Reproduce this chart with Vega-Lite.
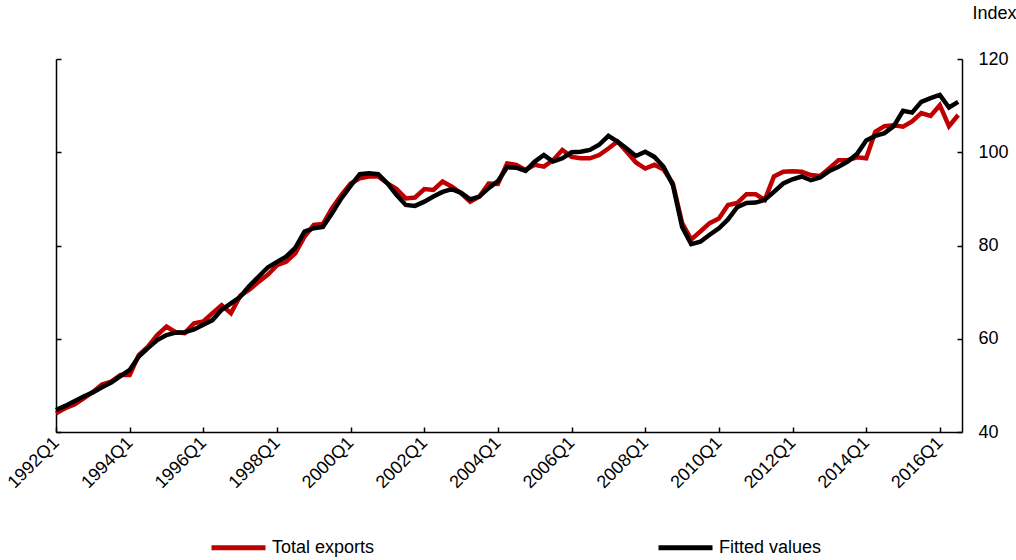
{
  "$schema": "https://vega.github.io/schema/vega-lite/v6.json",
  "width": 906,
  "height": 373,
  "autosize": {"type": "none"},
  "padding": {"left": 56, "top": 59, "right": 54, "bottom": 128},
  "background": "white",
  "config": {
    "view": {"stroke": null},
    "font": "Liberation Sans",
    "axis": {"labelFont": "Liberation Sans", "titleFont": "Liberation Sans", "labelColor": "black", "titleColor": "black", "domainColor": "black", "tickColor": "black", "grid": false}
  },
  "data": {
    "values": [
      {"date": "1992-01-01", "Total exports": 44.0, "Fitted values": 44.7},
      {"date": "1992-04-01", "Total exports": 45.1, "Fitted values": 45.6},
      {"date": "1992-07-01", "Total exports": 45.9, "Fitted values": 46.6},
      {"date": "1992-10-01", "Total exports": 47.2, "Fitted values": 47.6},
      {"date": "1993-01-01", "Total exports": 48.6, "Fitted values": 48.5},
      {"date": "1993-04-01", "Total exports": 50.2, "Fitted values": 49.6},
      {"date": "1993-07-01", "Total exports": 50.8, "Fitted values": 50.6},
      {"date": "1993-10-01", "Total exports": 52.2, "Fitted values": 52.0},
      {"date": "1994-01-01", "Total exports": 52.2, "Fitted values": 53.3},
      {"date": "1994-04-01", "Total exports": 56.5, "Fitted values": 56.2},
      {"date": "1994-07-01", "Total exports": 58.3, "Fitted values": 58.0},
      {"date": "1994-10-01", "Total exports": 60.8, "Fitted values": 59.7},
      {"date": "1995-01-01", "Total exports": 62.6, "Fitted values": 60.8},
      {"date": "1995-04-01", "Total exports": 61.4, "Fitted values": 61.3},
      {"date": "1995-07-01", "Total exports": 61.2, "Fitted values": 61.4},
      {"date": "1995-10-01", "Total exports": 63.3, "Fitted values": 62.0},
      {"date": "1996-01-01", "Total exports": 63.7, "Fitted values": 63.0},
      {"date": "1996-04-01", "Total exports": 65.5, "Fitted values": 64.0},
      {"date": "1996-07-01", "Total exports": 67.2, "Fitted values": 66.2},
      {"date": "1996-10-01", "Total exports": 65.5, "Fitted values": 67.6},
      {"date": "1997-01-01", "Total exports": 69.2, "Fitted values": 69.0},
      {"date": "1997-04-01", "Total exports": 70.5, "Fitted values": 71.3},
      {"date": "1997-07-01", "Total exports": 72.2, "Fitted values": 73.3},
      {"date": "1997-10-01", "Total exports": 73.7, "Fitted values": 75.3},
      {"date": "1998-01-01", "Total exports": 75.8, "Fitted values": 76.5},
      {"date": "1998-04-01", "Total exports": 76.5, "Fitted values": 77.6},
      {"date": "1998-07-01", "Total exports": 78.3, "Fitted values": 79.5},
      {"date": "1998-10-01", "Total exports": 81.9, "Fitted values": 83.0},
      {"date": "1999-01-01", "Total exports": 84.4, "Fitted values": 83.7},
      {"date": "1999-04-01", "Total exports": 84.6, "Fitted values": 84.0},
      {"date": "1999-07-01", "Total exports": 88.0, "Fitted values": 86.9},
      {"date": "1999-10-01", "Total exports": 90.8, "Fitted values": 90.1},
      {"date": "2000-01-01", "Total exports": 93.3, "Fitted values": 92.8},
      {"date": "2000-04-01", "Total exports": 94.4, "Fitted values": 95.3},
      {"date": "2000-07-01", "Total exports": 94.8, "Fitted values": 95.5},
      {"date": "2000-10-01", "Total exports": 94.8, "Fitted values": 95.3},
      {"date": "2001-01-01", "Total exports": 93.3, "Fitted values": 93.3},
      {"date": "2001-04-01", "Total exports": 92.1, "Fitted values": 90.8},
      {"date": "2001-07-01", "Total exports": 90.1, "Fitted values": 88.7},
      {"date": "2001-10-01", "Total exports": 90.3, "Fitted values": 88.5},
      {"date": "2002-01-01", "Total exports": 92.1, "Fitted values": 89.4},
      {"date": "2002-04-01", "Total exports": 91.9, "Fitted values": 90.5},
      {"date": "2002-07-01", "Total exports": 93.7, "Fitted values": 91.5},
      {"date": "2002-10-01", "Total exports": 92.6, "Fitted values": 92.1},
      {"date": "2003-01-01", "Total exports": 91.2, "Fitted values": 91.3},
      {"date": "2003-04-01", "Total exports": 89.4, "Fitted values": 89.9},
      {"date": "2003-07-01", "Total exports": 90.5, "Fitted values": 90.5},
      {"date": "2003-10-01", "Total exports": 93.3, "Fitted values": 92.3},
      {"date": "2004-01-01", "Total exports": 93.2, "Fitted values": 93.8},
      {"date": "2004-04-01", "Total exports": 97.6, "Fitted values": 96.8},
      {"date": "2004-07-01", "Total exports": 97.3, "Fitted values": 96.7},
      {"date": "2004-10-01", "Total exports": 96.2, "Fitted values": 96.0},
      {"date": "2005-01-01", "Total exports": 97.3, "Fitted values": 98.0},
      {"date": "2005-04-01", "Total exports": 96.9, "Fitted values": 99.4},
      {"date": "2005-07-01", "Total exports": 98.3, "Fitted values": 98.0},
      {"date": "2005-10-01", "Total exports": 100.5, "Fitted values": 98.7},
      {"date": "2006-01-01", "Total exports": 99.0, "Fitted values": 100.0},
      {"date": "2006-04-01", "Total exports": 98.7, "Fitted values": 100.1},
      {"date": "2006-07-01", "Total exports": 98.7, "Fitted values": 100.5},
      {"date": "2006-10-01", "Total exports": 99.4, "Fitted values": 101.6},
      {"date": "2007-01-01", "Total exports": 100.8, "Fitted values": 103.5},
      {"date": "2007-04-01", "Total exports": 102.3, "Fitted values": 102.3},
      {"date": "2007-07-01", "Total exports": 100.1, "Fitted values": 100.8},
      {"date": "2007-10-01", "Total exports": 97.8, "Fitted values": 99.2},
      {"date": "2008-01-01", "Total exports": 96.5, "Fitted values": 100.1},
      {"date": "2008-04-01", "Total exports": 97.3, "Fitted values": 99.0},
      {"date": "2008-07-01", "Total exports": 96.3, "Fitted values": 96.9},
      {"date": "2008-10-01", "Total exports": 93.3, "Fitted values": 93.0},
      {"date": "2009-01-01", "Total exports": 84.8, "Fitted values": 84.0},
      {"date": "2009-04-01", "Total exports": 81.3, "Fitted values": 80.3},
      {"date": "2009-07-01", "Total exports": 83.0, "Fitted values": 80.8},
      {"date": "2009-10-01", "Total exports": 84.8, "Fitted values": 82.3},
      {"date": "2010-01-01", "Total exports": 85.8, "Fitted values": 83.7},
      {"date": "2010-04-01", "Total exports": 88.7, "Fitted values": 85.6},
      {"date": "2010-07-01", "Total exports": 89.1, "Fitted values": 88.2},
      {"date": "2010-10-01", "Total exports": 91.0, "Fitted values": 89.1},
      {"date": "2011-01-01", "Total exports": 91.0, "Fitted values": 89.2},
      {"date": "2011-04-01", "Total exports": 89.8, "Fitted values": 89.8},
      {"date": "2011-07-01", "Total exports": 94.8, "Fitted values": 91.5},
      {"date": "2011-10-01", "Total exports": 95.8, "Fitted values": 93.3},
      {"date": "2012-01-01", "Total exports": 95.9, "Fitted values": 94.2},
      {"date": "2012-04-01", "Total exports": 95.8, "Fitted values": 94.8},
      {"date": "2012-07-01", "Total exports": 95.1, "Fitted values": 94.0},
      {"date": "2012-10-01", "Total exports": 94.9, "Fitted values": 94.6},
      {"date": "2013-01-01", "Total exports": 96.6, "Fitted values": 96.0},
      {"date": "2013-04-01", "Total exports": 98.3, "Fitted values": 96.9},
      {"date": "2013-07-01", "Total exports": 98.3, "Fitted values": 98.0},
      {"date": "2013-10-01", "Total exports": 98.9, "Fitted values": 99.6},
      {"date": "2014-01-01", "Total exports": 98.7, "Fitted values": 102.5},
      {"date": "2014-04-01", "Total exports": 104.4, "Fitted values": 103.5},
      {"date": "2014-07-01", "Total exports": 105.6, "Fitted values": 104.1},
      {"date": "2014-10-01", "Total exports": 105.8, "Fitted values": 105.6},
      {"date": "2015-01-01", "Total exports": 105.5, "Fitted values": 108.9},
      {"date": "2015-04-01", "Total exports": 106.6, "Fitted values": 108.5},
      {"date": "2015-07-01", "Total exports": 108.4, "Fitted values": 110.8},
      {"date": "2015-10-01", "Total exports": 107.8, "Fitted values": 111.6},
      {"date": "2016-01-01", "Total exports": 110.1, "Fitted values": 112.3},
      {"date": "2016-04-01", "Total exports": 105.6, "Fitted values": 109.6},
      {"date": "2016-07-01", "Total exports": 108.0, "Fitted values": 110.8}
    ]
  },
  "transform": [{"fold": ["Total exports", "Fitted values"], "as": ["series", "value"]}],
  "resolve": {"axis": {"y": "independent"}},
  "layer": [
    {
      "mark": {"type": "line", "strokeWidth": 4.5, "strokeJoin": "miter", "strokeCap": "butt"},
      "encoding": {
        "x": {
          "field": "date", "type": "temporal",
          "scale": {"type": "utc", "domain": [{"year": 1992, "month": 1, "date": 1, "utc": true}, {"year": 2016, "month": 8, "date": 8, "utc": true}]},
          "axis": {
            "title": null,
            "values": [
              {"year": 1992, "month": 1, "date": 1, "utc": true}, {"year": 1994, "month": 1, "date": 1, "utc": true},
              {"year": 1996, "month": 1, "date": 1, "utc": true}, {"year": 1998, "month": 1, "date": 1, "utc": true},
              {"year": 2000, "month": 1, "date": 1, "utc": true}, {"year": 2002, "month": 1, "date": 1, "utc": true},
              {"year": 2004, "month": 1, "date": 1, "utc": true}, {"year": 2006, "month": 1, "date": 1, "utc": true},
              {"year": 2008, "month": 1, "date": 1, "utc": true}, {"year": 2010, "month": 1, "date": 1, "utc": true},
              {"year": 2012, "month": 1, "date": 1, "utc": true}, {"year": 2014, "month": 1, "date": 1, "utc": true},
              {"year": 2016, "month": 1, "date": 1, "utc": true}
            ],
            "labelExpr": "utcFormat(datum.value, '%Y') + 'Q1'",
            "labelAngle": -45, "labelAlign": "right", "labelBaseline": "middle",
            "labelFontSize": 18, "labelPadding": 13, "labelOverlap": false, "labelFlush": false,
            "domainWidth": 1.5, "tickWidth": 1.5, "tickSize": -5
          }
        },
        "y": {
          "field": "value", "type": "quantitative",
          "scale": {"domain": [40, 120], "nice": false, "zero": false},
          "axis": {
            "orient": "right", "values": [40, 60, 80, 100, 120],
            "labelFontSize": 18, "labelPadding": 21, "labelBaseline": "middle",
            "domainWidth": 1.5, "tickWidth": 1.5, "tickSize": -5,
            "title": "Index", "titleAngle": 0, "titleFontSize": 18, "titleFontWeight": "normal",
            "titleAlign": "left", "titleBaseline": "alphabetic", "titleX": 10, "titleY": -41
          }
        },
        "color": {
          "field": "series", "type": "nominal",
          "scale": {"domain": ["Total exports", "Fitted values"], "range": ["#C00000", "#000000"]},
          "legend": {
            "title": null, "orient": "none", "legendX": 153, "legendY": 459,
            "direction": "horizontal", "columns": 2, "columnPadding": 273,
            "symbolType": "stroke", "symbolSize": 2916, "symbolStrokeWidth": 5,
            "labelFontSize": 18, "labelFont": "Liberation Sans", "labelColor": "black", "labelOffset": 4
          }
        }
      }
    },
    {
      "mark": {"type": "point", "opacity": 0},
      "encoding": {
        "x": {"field": "date", "type": "temporal"},
        "y": {
          "field": "value", "type": "quantitative",
          "axis": {
            "orient": "left", "values": [40, 60, 80, 100, 120], "labels": false, "title": null,
            "domainWidth": 1.5, "tickWidth": 1.5, "tickSize": -5
          }
        }
      }
    }
  ]
}
